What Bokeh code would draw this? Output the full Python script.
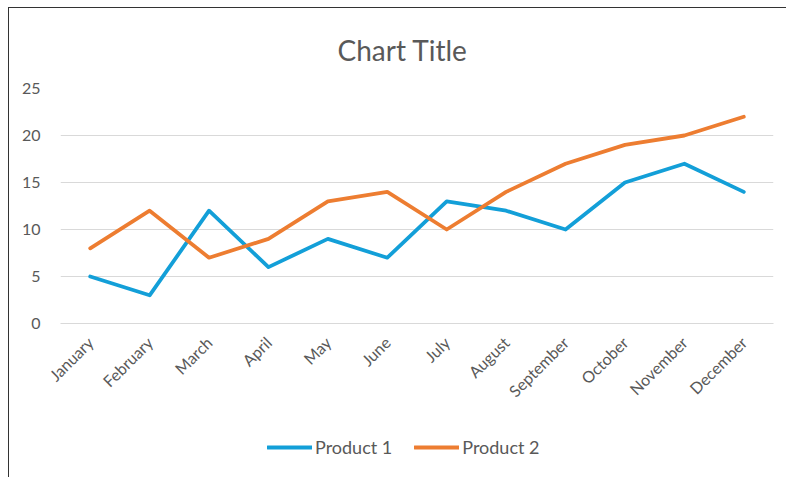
import math
from bokeh.plotting import figure
from bokeh.layouts import column
from bokeh.models import FactorRange, Range1d, SingleIntervalTicker, Legend, LegendItem
from bokeh.embed import file_html
from bokeh.resources import INLINE

months = ["January", "February", "March", "April", "May", "June", "July",
          "August", "September", "October", "November", "December"]
product1 = [5, 3, 12, 6, 9, 7, 13, 12, 10, 15, 17, 14]
product2 = [8, 12, 7, 9, 13, 14, 10, 14, 17, 19, 20, 22]
series_names = ["Product 1", "Product 2"]
colors = ["#139fd8", "#ed7d31"]

FONT = "Lato"
GREY = "#595959"
W = 780

p = figure(width=W, height=405, x_range=FactorRange(*months), y_range=Range1d(0, 25),
           output_backend="svg", toolbar_location=None,
           min_border_left=51, min_border_right=16, min_border_top=80, min_border_bottom=90)

p.outline_line_color = None
p.background_fill_color = "white"
p.border_fill_color = "white"

p.title.text = "Chart Title"
p.title.align = "left"
p.title.offset = 277
p.title.standoff = 44
p.title.text_font = FONT
p.title.text_font_size = "28px"
p.title.text_font_style = "normal"
p.title.text_color = GREY

p.yaxis.ticker = SingleIntervalTicker(interval=5)
p.yaxis.axis_line_color = None
p.yaxis.major_tick_line_color = None
p.yaxis.minor_tick_line_color = None
p.yaxis.major_label_text_font = FONT
p.yaxis.major_label_text_font_size = "16px"
p.yaxis.major_label_text_color = GREY
p.yaxis.major_label_standoff = 14

p.xaxis.axis_line_color = "#d9d9d9"
p.xaxis.major_tick_line_color = None
p.xaxis.minor_tick_line_color = None
p.xaxis.major_label_orientation = math.pi / 4
p.xaxis.major_label_text_font = FONT
p.xaxis.major_label_text_font_size = "16px"
p.xaxis.major_label_text_color = GREY
p.xaxis.major_label_standoff = 10

p.xgrid.grid_line_color = None
p.ygrid.grid_line_color = "#d9d9d9"
p.ygrid.grid_line_width = 1

for vals, col_ in zip([product1, product2], colors):
    p.line(months, vals, line_color=col_, line_width=3.8, line_join="round", line_cap="round")

# legend strip below the chart
p2 = figure(width=W, height=64, x_range=FactorRange(*months), y_range=Range1d(0, 25),
            output_backend="svg", toolbar_location=None,
            x_axis_location=None, y_axis_location=None,
            min_border_left=0, min_border_right=0, min_border_top=0, min_border_bottom=0)
p2.outline_line_color = None
p2.xgrid.grid_line_color = None
p2.ygrid.grid_line_color = None
p2.border_fill_color = "white"

items = []
for name, vals, col_ in zip(series_names, [product1, product2], colors):
    r = p2.line(months, vals, line_color=col_, line_width=3.8, line_cap="round", visible=False)
    items.append(LegendItem(label=name, renderers=[r]))

legend = Legend(items=items, orientation="horizontal", location=(207, 19),
                label_text_font=FONT, label_text_font_size="18px", label_text_color=GREY,
                glyph_width=45, label_standoff=3, spacing=22, border_line_color=None,
                background_fill_alpha=0, margin=0, padding=0)
p2.add_layout(legend, "center")

layout = column(p, p2, spacing=0, margin=(7, 0, 0, 8),
                styles={"border-left": "1px solid #333333", "border-top": "1px solid #333333"})

open("out.html", "w").write(file_html(layout, INLINE))
